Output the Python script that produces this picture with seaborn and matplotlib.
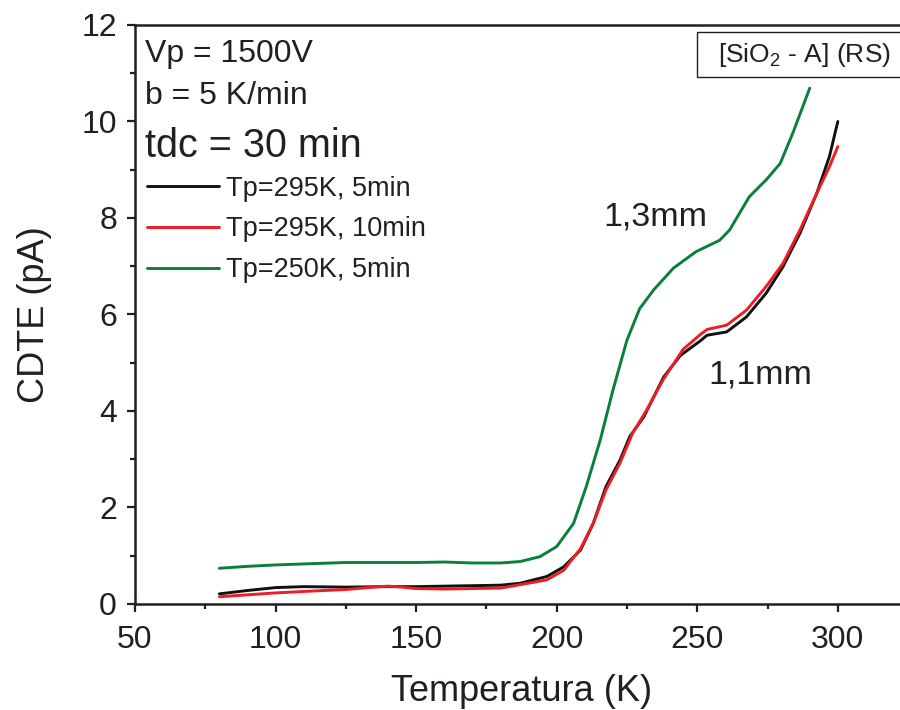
import matplotlib
matplotlib.use("Agg")
import matplotlib.pyplot as plt
from matplotlib.patches import Rectangle
from matplotlib.ticker import MultipleLocator
import seaborn as sns
import pandas as pd

# Temperature (K) and thermally stimulated current (pA) for each run
temp_a = [80, 90, 100, 110, 125, 140, 150, 160, 170, 180, 187, 196.5, 202.5, 208.5,
          213, 217.5, 222.5, 226, 231, 238, 244, 251, 253.5, 260.5, 267.5, 274.5,
          280.5, 286.5, 292.5, 297, 300]
cdte_295_5 = [0.21, 0.28, 0.34, 0.36, 0.35, 0.36, 0.36, 0.37, 0.38, 0.39, 0.43, 0.57,
              0.77, 1.12, 1.67, 2.43, 2.98, 3.47, 3.88, 4.70, 5.15, 5.45, 5.57, 5.64,
              5.95, 6.44, 6.99, 7.68, 8.51, 9.27, 10.0]

temp_b = [80, 90, 100, 110, 125, 135, 140, 145, 150, 160, 170, 180, 187, 196.5, 202.5,
          208.5, 213, 217.5, 222.5, 227, 232, 238, 245, 251, 253.5, 260.5, 267.5,
          274.5, 280.5, 286.5, 292.5, 297, 300]
cdte_295_10 = [0.15, 0.19, 0.23, 0.26, 0.30, 0.35, 0.37, 0.35, 0.32, 0.31, 0.32, 0.33,
               0.40, 0.50, 0.70, 1.15, 1.67, 2.36, 2.92, 3.54, 4.02, 4.66, 5.28, 5.58,
               5.69, 5.78, 6.09, 6.58, 7.06, 7.75, 8.51, 9.06, 9.48]

temp_c = [80, 90, 100, 110, 125, 150, 160, 170, 180, 187, 194, 200, 206, 210.5, 215.5,
          220, 225, 229.5, 234.5, 241.5, 249.5, 258, 261.5, 268.5, 274.5, 279.5, 284,
          290]
cdte_250_5 = [0.74, 0.78, 0.81, 0.83, 0.86, 0.86, 0.87, 0.85, 0.85, 0.88, 0.98, 1.19,
              1.67, 2.43, 3.40, 4.43, 5.47, 6.12, 6.51, 6.96, 7.30, 7.54, 7.75, 8.44,
              8.79, 9.13, 9.76, 10.69]

series_labels = ["Tp=295K, 5min", "Tp=295K, 10min", "Tp=250K, 5min"]
series_colors = ["#111111", "#ee1c24", "#0a7f3c"]

frames = []
for lab, t, v in zip(series_labels, [temp_a, temp_b, temp_c],
                     [cdte_295_5, cdte_295_10, cdte_250_5]):
    frames.append(pd.DataFrame({"T": t, "I": v, "serie": lab}))
df = pd.concat(frames, ignore_index=True)

sns.set_theme(style="ticks")
plt.rcParams["font.family"] = ["Liberation Sans", "DejaVu Sans"]
plt.rcParams["mathtext.default"] = "regular"
plt.rcParams["lines.solid_joinstyle"] = "round"
txt = "#231f20"

fig = plt.figure(figsize=(9, 7.1), dpi=100)
ax = fig.add_axes([0.15, 0.1493, 0.859, 0.8155])

sns.lineplot(data=df, x="T", y="I", hue="serie", palette=series_colors,
             hue_order=series_labels, linewidth=2.1, ax=ax, sort=True,
             estimator=None)

ax.set_xlim(50, 325)
ax.set_ylim(0, 12)
ax.xaxis.set_major_locator(MultipleLocator(50))
ax.xaxis.set_minor_locator(MultipleLocator(25))
ax.yaxis.set_major_locator(MultipleLocator(2))
ax.yaxis.set_minor_locator(MultipleLocator(1))
ax.tick_params(which="major", direction="out", length=6, width=1.6,
               labelsize=23, colors=txt, pad=7)
ax.tick_params(axis="x", which="major", pad=9)
ax.tick_params(which="minor", direction="out", length=3.5, width=1.6, colors=txt)
ax.tick_params(axis="x", top=False, which="both")
for side in ["left", "bottom", "top"]:
    ax.spines[side].set_linewidth(1.8)
    ax.spines[side].set_color(txt)
ax.spines["right"].set_visible(False)

ax.set_xlabel("Temperatura (K)", fontsize=26, color=txt, labelpad=14)
ax.set_ylabel("CDTE (pA)", fontsize=26, color=txt, labelpad=21)

ax.text(53.6, 11.23, "Vp = 1500V", fontsize=23, color=txt, va="baseline")
ax.text(53.6, 10.36, "b = 5 K/min", fontsize=23, color=txt, va="baseline")
ax.text(53.6, 9.26, "tdc = 30 min", fontsize=28.5, color=txt, va="baseline")

ax.text(235, 8.02, "1,3mm", fontsize=24.5, color=txt, ha="center", va="center")
ax.text(272.3, 4.75, "1,1mm", fontsize=24.5, color=txt, ha="center", va="center")

ax.add_patch(Rectangle((0.727, 0.910), 0.3, 0.078, transform=ax.transAxes,
                       fill=False, edgecolor=txt, linewidth=1.0, clip_on=False))
ax.text(0.866, 0.948, "[SiO$_2$ - A] (RS)", transform=ax.transAxes,
        fontsize=19, color=txt, ha="center", va="center")

leg = ax.legend(loc="upper left", bbox_to_anchor=(0.0155, 0.74), frameon=False,
                fontsize=19.5, handlelength=2.67, handletextpad=0.26,
                labelspacing=0.55, borderaxespad=0, borderpad=0)
for t in leg.get_texts():
    t.set_color(txt)

fig.savefig("out.png", dpi=100)
